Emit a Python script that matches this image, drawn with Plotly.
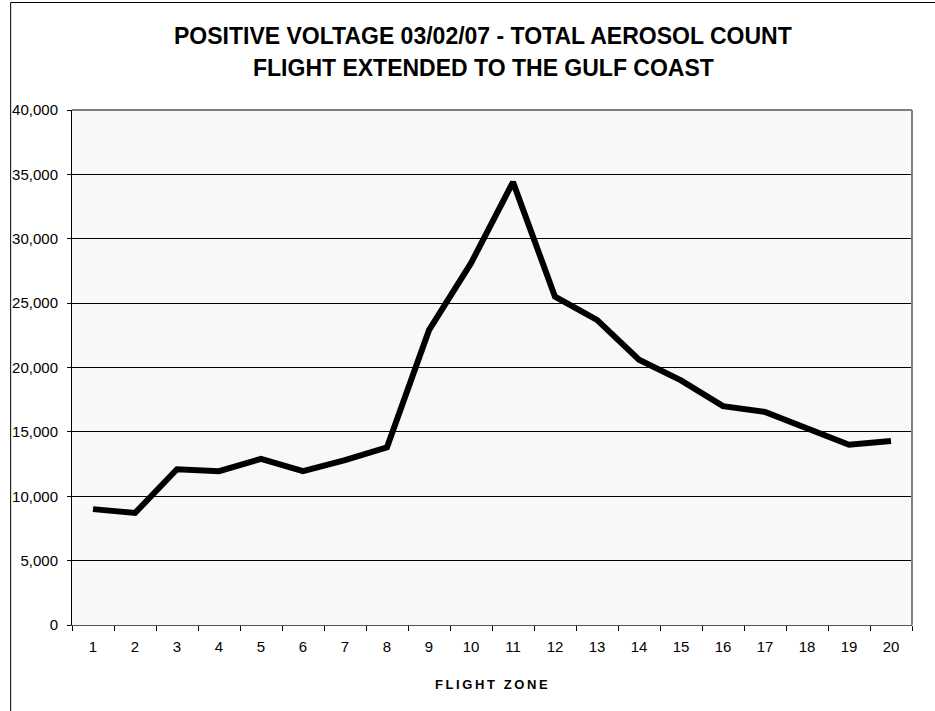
import plotly.graph_objects as go

# Total aerosol count per flight zone (positive voltage, 03/02/07)
zones = [str(i) for i in range(1, 21)]
aerosol_count = [9000, 8700, 12100, 11950, 12900, 11950, 12800, 13800, 22900, 28100,
                 34400, 25500, 23700, 20600, 19000, 17000, 16550, 15300, 14000, 14300]

y_ticks = [0, 5000, 10000, 15000, 20000, 25000, 30000, 35000, 40000]
y_tick_text = ["0", "5,000", "10,000", "15,000", "20,000", "25,000", "30,000", "35,000", "40,000"]

title_line1 = "POSITIVE VOLTAGE 03/02/07 - TOTAL AEROSOL COUNT"
title_line2 = "FLIGHT EXTENDED TO THE GULF COAST"
x_title = "FLIGHT ZONE"

W, H = 935, 711
ML, MR, MT, MB = 70, 23, 110, 86
PW, PH = W - ML - MR, H - MT - MB


def px_to_paper_x(px):
    return (px - ML) / PW


def px_to_paper_y(py):
    return 1 - (py - MT) / PH


fig = go.Figure()
fig.add_trace(go.Scatter(
    x=zones, y=aerosol_count, mode="lines",
    line=dict(color="#000000", width=6),
    hoverinfo="x+y", showlegend=False,
))

font_family = "Liberation Sans, Arial, sans-serif"

fig.update_layout(
    width=W, height=H,
    margin=dict(l=ML, r=MR, t=MT, b=MB, pad=0),
    paper_bgcolor="#ffffff",
    plot_bgcolor="#f8f8f8",
    font=dict(family=font_family, color="#000000", size=15),
    xaxis=dict(
        type="category", tickson="boundaries", ticks="outside", ticklen=5,
        tickcolor="#000000", showgrid=False, showline=True, linecolor="#555555",
        linewidth=1, tickfont=dict(size=15), ticklabelstandoff=8,
        range=[-0.5, 19.5], mirror=False,
    ),
    yaxis=dict(
        range=[0, 40000], tickvals=y_ticks, ticktext=y_tick_text,
        ticks="outside", ticklen=4, tickcolor="#000000",
        showgrid=True, gridcolor="#000000", gridwidth=1,
        showline=True, linecolor="#000000", linewidth=1,
        tickfont=dict(size=15), ticklabelstandoff=6, zeroline=False,
    ),
    shapes=[
        # grey frame on the top and right sides of the plot area
        dict(type="line", xref="paper", yref="paper", x0=0, x1=1, y0=1, y1=1,
             line=dict(color="#808080", width=2)),
        dict(type="line", xref="paper", yref="paper", x0=1, x1=1, y0=0, y1=1,
             line=dict(color="#808080", width=2)),
        # outer chart border
        dict(type="rect", xref="paper", yref="paper",
             x0=px_to_paper_x(8.5), x1=px_to_paper_x(W + 5),
             y0=px_to_paper_y(H + 5), y1=px_to_paper_y(2.5),
             line=dict(color="#000000", width=1)),
    ],
    annotations=[
        dict(text="<b>" + title_line1 + "</b>", xref="paper", yref="paper",
             x=px_to_paper_x(482), y=px_to_paper_y(36), showarrow=False,
             xanchor="center", yanchor="middle",
             font=dict(size=23, family=font_family)),
        dict(text="<b>" + title_line2 + "</b>", xref="paper", yref="paper",
             x=px_to_paper_x(482), y=px_to_paper_y(67.5), showarrow=False,
             xanchor="center", yanchor="middle",
             font=dict(size=23, family=font_family)),
        dict(text="<b>" + "\u2009".join(x_title) + "</b>", xref="paper", yref="paper",
             x=px_to_paper_x(490), y=px_to_paper_y(684), showarrow=False,
             xanchor="center", yanchor="middle",
             font=dict(size=13, family=font_family)),
    ],
)

fig.write_html("out.html")
